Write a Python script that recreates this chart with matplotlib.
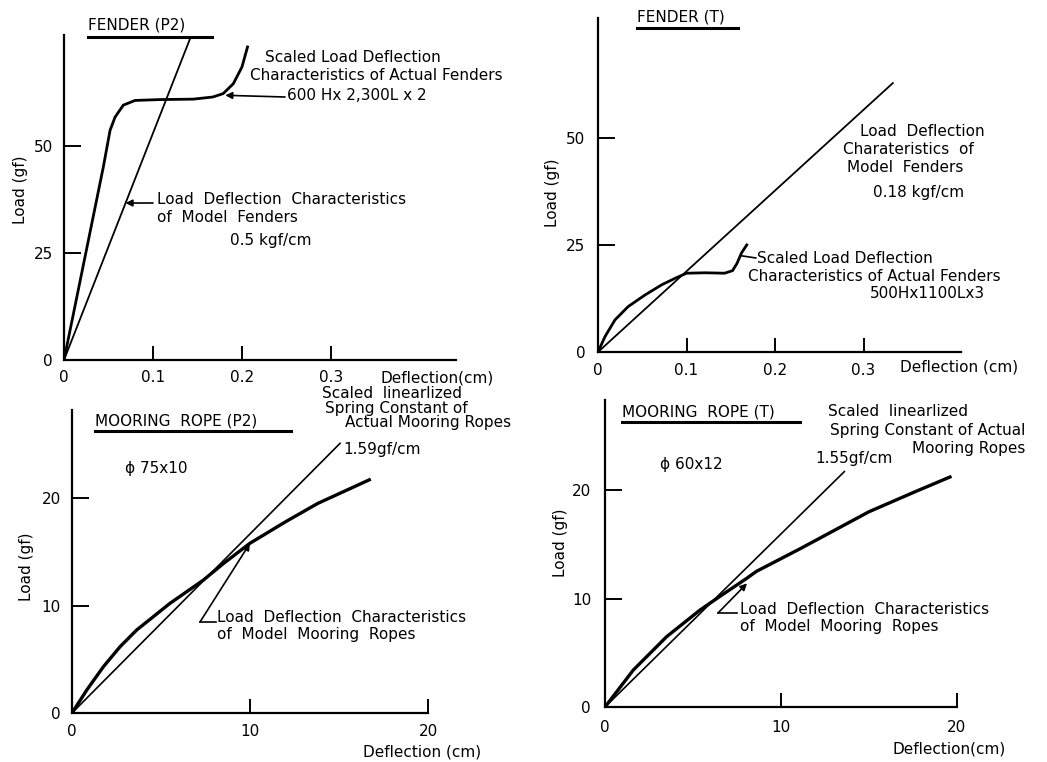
import matplotlib
matplotlib.use("Agg")
import matplotlib.pyplot as plt
from matplotlib.lines import Line2D

W, H = 1047, 762

# ---- data ----
# Fender (P2)
p2_fender_actual_x = [0, 0.0442, 0.0517, 0.0573, 0.0666, 0.0798, 0.1079, 0.145, 0.167,
                      0.1787, 0.19, 0.1997, 0.206]
p2_fender_actual_y = [0, 45.2, 53.7, 56.8, 59.6, 60.7, 60.9, 61.0, 61.5,
                      62.3, 64.6, 68.5, 73.2]
p2_fender_model_x = [0, 0.1416]
p2_fender_model_y = [0, 75.2]

# Fender (T)
t_fender_actual_x = [0, 0.0079, 0.0192, 0.034, 0.053, 0.072, 0.087, 0.100, 0.121,
                     0.143, 0.152, 0.157, 0.162, 0.168]
t_fender_actual_y = [0, 3.6, 7.5, 10.6, 13.3, 15.7, 17.2, 18.4, 18.5,
                     18.4, 19.0, 20.7, 23.1, 25.0]
t_fender_model_x = [0, 0.333]
t_fender_model_y = [0, 62.8]

# Mooring rope (P2)
p2_rope_model_x = [0, 0.83, 1.76, 2.7, 3.63, 5.5, 7.38, 8.5, 10.0, 12.0, 13.8, 16.7]
p2_rope_model_y = [0, 2.14, 4.3, 6.17, 7.72, 10.2, 12.37, 13.9, 15.8, 17.8, 19.5, 21.7]
p2_rope_lin_x = [0, 15.06]
p2_rope_lin_y = [0, 25.1]

# Mooring rope (T)
t_rope_model_x = [0, 1.61, 3.5, 5.4, 6.35, 8.05, 8.6, 11.1, 15.0, 17.7, 19.6]
t_rope_model_y = [0, 3.41, 6.48, 8.94, 10.0, 11.86, 12.5, 14.6, 18.0, 19.9, 21.2]
t_rope_lin_x = [0, 13.6]
t_rope_lin_y = [0, 21.7]

fender_xticks = [0, 0.1, 0.2, 0.3]
fender_xlabels = ["0", "0.1", "0.2", "0.3"]
fender_yticks = [0, 25, 50]
fender_ylabels = ["0", "25", "50"]
rope_xticks = [0, 10, 20]
rope_xlabels = ["0", "10", "20"]
rope_yticks = [0, 10, 20]
rope_ylabels = ["0", "10", "20"]

plt.rcParams['font.family'] = ['DejaVu Sans']
FS = 11


def px(x, y):
    """pixel position (from top-left) -> figure fraction"""
    return x / W, 1 - y / H


def make_axes(fig, left, bottom, right, top, xlim, ylim, xticks, xlabels,
              yticks, ylabels, xpad, ypad):
    ax = fig.add_axes([left / W, 1 - bottom / H, (right - left) / W, (bottom - top) / H])
    ax.set_xlim(*xlim)
    ax.set_ylim(*ylim)
    ax.patch.set_alpha(0)
    for s in ['top', 'right']:
        ax.spines[s].set_visible(False)
    for s in ['left', 'bottom']:
        ax.spines[s].set_linewidth(1.6)
    ax.set_xticks(xticks)
    ax.set_xticklabels(xlabels)
    ax.set_yticks(yticks)
    ax.set_yticklabels(ylabels)
    ax.tick_params(axis='x', direction='in', length=10, width=1.4, pad=xpad, labelsize=FS)
    ax.tick_params(axis='y', direction='in', length=12, width=1.4, pad=ypad, labelsize=FS)
    return ax


def title(fig, x0, x1, y, text, uy):
    fig.text(*px(x0, y), text, fontsize=FS, ha='left', va='center')
    fig.add_artist(Line2D([x0 / W, x1 / W], [1 - uy / H, 1 - uy / H], color='black', lw=2.2))


def lines(fig, x, y, items):
    for i, t in enumerate(items):
        fig.text(*px(x[i], y[i]), t, fontsize=FS, ha='left', va='center')


fig = plt.figure(figsize=(W / 100, H / 100), dpi=100)

arrow = dict(arrowstyle='-|>', color='black', lw=1.2, mutation_scale=10, shrinkA=0, shrinkB=0)
plain = dict(arrowstyle='-', color='black', lw=1.2, shrinkA=0, shrinkB=0)

# ---------- Fender (P2) ----------
ax1 = make_axes(fig, 64, 360, 456, 35, (0, 0.44), (0, 76),
                fender_xticks, fender_xlabels, fender_yticks, fender_ylabels, 7, 8)
ax1.plot(p2_fender_actual_x, p2_fender_actual_y, color='black', lw=2.0)
ax1.plot(p2_fender_model_x, p2_fender_model_y, color='black', lw=1.3)
title(fig, 88, 212, 25, "FENDER (P2)", 37)
fig.text(*px(20, 190), "Load (gf)", rotation=90, fontsize=FS, ha='center', va='center')
fig.text(*px(380, 378), "Deflection(cm)", fontsize=FS, ha='left', va='center')
lines(fig, [265, 250], [57, 75], ["Scaled Load Deflection", "Characteristics of Actual Fenders"])
fig.text(*px(287, 96), "600 Hx 2,300L x 2", fontsize=FS, ha='left', va='center')
ax1.annotate('', xy=(0.181, 61.9), xytext=px(285, 97), textcoords='figure fraction',
             arrowprops=arrow)
lines(fig, [157, 157, 230], [200, 218, 240],
      ["Load  Deflection  Characteristics", "of  Model  Fenders", "0.5 kgf/cm"])
ax1.annotate('', xy=(0.069, 36.7), xytext=px(153, 203), textcoords='figure fraction',
             arrowprops=arrow)

# ---------- Fender (T) ----------
ax2 = make_axes(fig, 598, 352, 961, 18, (0, 0.41), (0, 78),
                fender_xticks, fender_xlabels, fender_yticks, fender_ylabels, 8, 9)
ax2.plot(t_fender_actual_x, t_fender_actual_y, color='black', lw=2.0)
ax2.plot(t_fender_model_x, t_fender_model_y, color='black', lw=1.3)
title(fig, 637, 738, 17, "FENDER (T)", 28)
fig.text(*px(553, 193), "Load (gf)", rotation=90, fontsize=FS, ha='center', va='center')
fig.text(*px(900, 367), "Deflection (cm)", fontsize=FS, ha='left', va='center')
lines(fig, [860, 843, 847, 873], [132, 150, 168, 192],
      ["Load  Deflection", "Charateristics  of", "Model  Fenders", "0.18 kgf/cm"])
lines(fig, [757, 748, 870], [258, 277, 293],
      ["Scaled Load Deflection", "Characteristics of Actual Fenders", "500Hx1100Lx3"])
ax2.annotate('', xy=(0.161, 22.5), xytext=px(756, 258), textcoords='figure fraction',
             arrowprops=plain)

# ---------- Mooring rope (P2) ----------
ax3 = make_axes(fig, 72, 713, 428, 410, (0, 20), (0, 28.2),
                rope_xticks, rope_xlabels, rope_yticks, rope_ylabels, 8, 8)
ax3.plot(p2_rope_model_x, p2_rope_model_y, color='black', lw=2.4)
ax3.plot(p2_rope_lin_x, p2_rope_lin_y, color='black', lw=1.2)
title(fig, 95, 291, 421, "MOORING  ROPE (P2)", 431)
fig.text(*px(27, 567), "Load (gf)", rotation=90, fontsize=FS, ha='center', va='center')
fig.text(*px(363, 752), "Deflection (cm)", fontsize=FS, ha='left', va='center')
lines(fig, [322, 325, 345], [393, 408, 423],
      ["Scaled  linearlized", "Spring Constant of", "Actual Mooring Ropes"])
fig.text(*px(343, 450), "1.59gf/cm", fontsize=FS, ha='left', va='center')
fig.text(*px(125, 468), "\u03d5 75x10", fontsize=FS, ha='left', va='center')
lines(fig, [217, 217], [618, 634],
      ["Load  Deflection  Characteristics", "of  Model  Mooring  Ropes"])
ax3.annotate('', xy=(10.0, 15.8), xytext=px(200, 622), textcoords='figure fraction',
             arrowprops=arrow)
fig.add_artist(Line2D([200 / W, 216 / W], [1 - 622 / H, 1 - 622 / H], color='black', lw=1.2))

# ---------- Mooring rope (T) ----------
ax4 = make_axes(fig, 605, 707, 957, 400, (0, 20), (0, 28.3),
                rope_xticks, rope_xlabels, rope_yticks, rope_ylabels, 9, 10)
ax4.plot(t_rope_model_x, t_rope_model_y, color='black', lw=2.4)
ax4.plot(t_rope_lin_x, t_rope_lin_y, color='black', lw=1.2)
title(fig, 622, 800, 412, "MOORING  ROPE (T)", 422)
fig.text(*px(560, 543), "Load (gf)", rotation=90, fontsize=FS, ha='center', va='center')
fig.text(*px(892, 749), "Deflection(cm)", fontsize=FS, ha='left', va='center')
lines(fig, [828, 830, 912], [412, 430, 448],
      ["Scaled  linearlized", "Spring Constant of Actual", "Mooring Ropes"])
fig.text(*px(815, 458), "1.55gf/cm", fontsize=FS, ha='left', va='center')
fig.text(*px(660, 465), "\u03d5 60x12", fontsize=FS, ha='left', va='center')
lines(fig, [740, 740], [610, 627],
      ["Load  Deflection  Characteristics", "of  Model  Mooring  Ropes"])
ax4.annotate('', xy=(8.07, 11.4), xytext=px(718, 613), textcoords='figure fraction',
             arrowprops=arrow)
fig.add_artist(Line2D([718 / W, 737 / W], [1 - 613 / H, 1 - 613 / H], color='black', lw=1.2))

fig.savefig("out.png", dpi=100)
